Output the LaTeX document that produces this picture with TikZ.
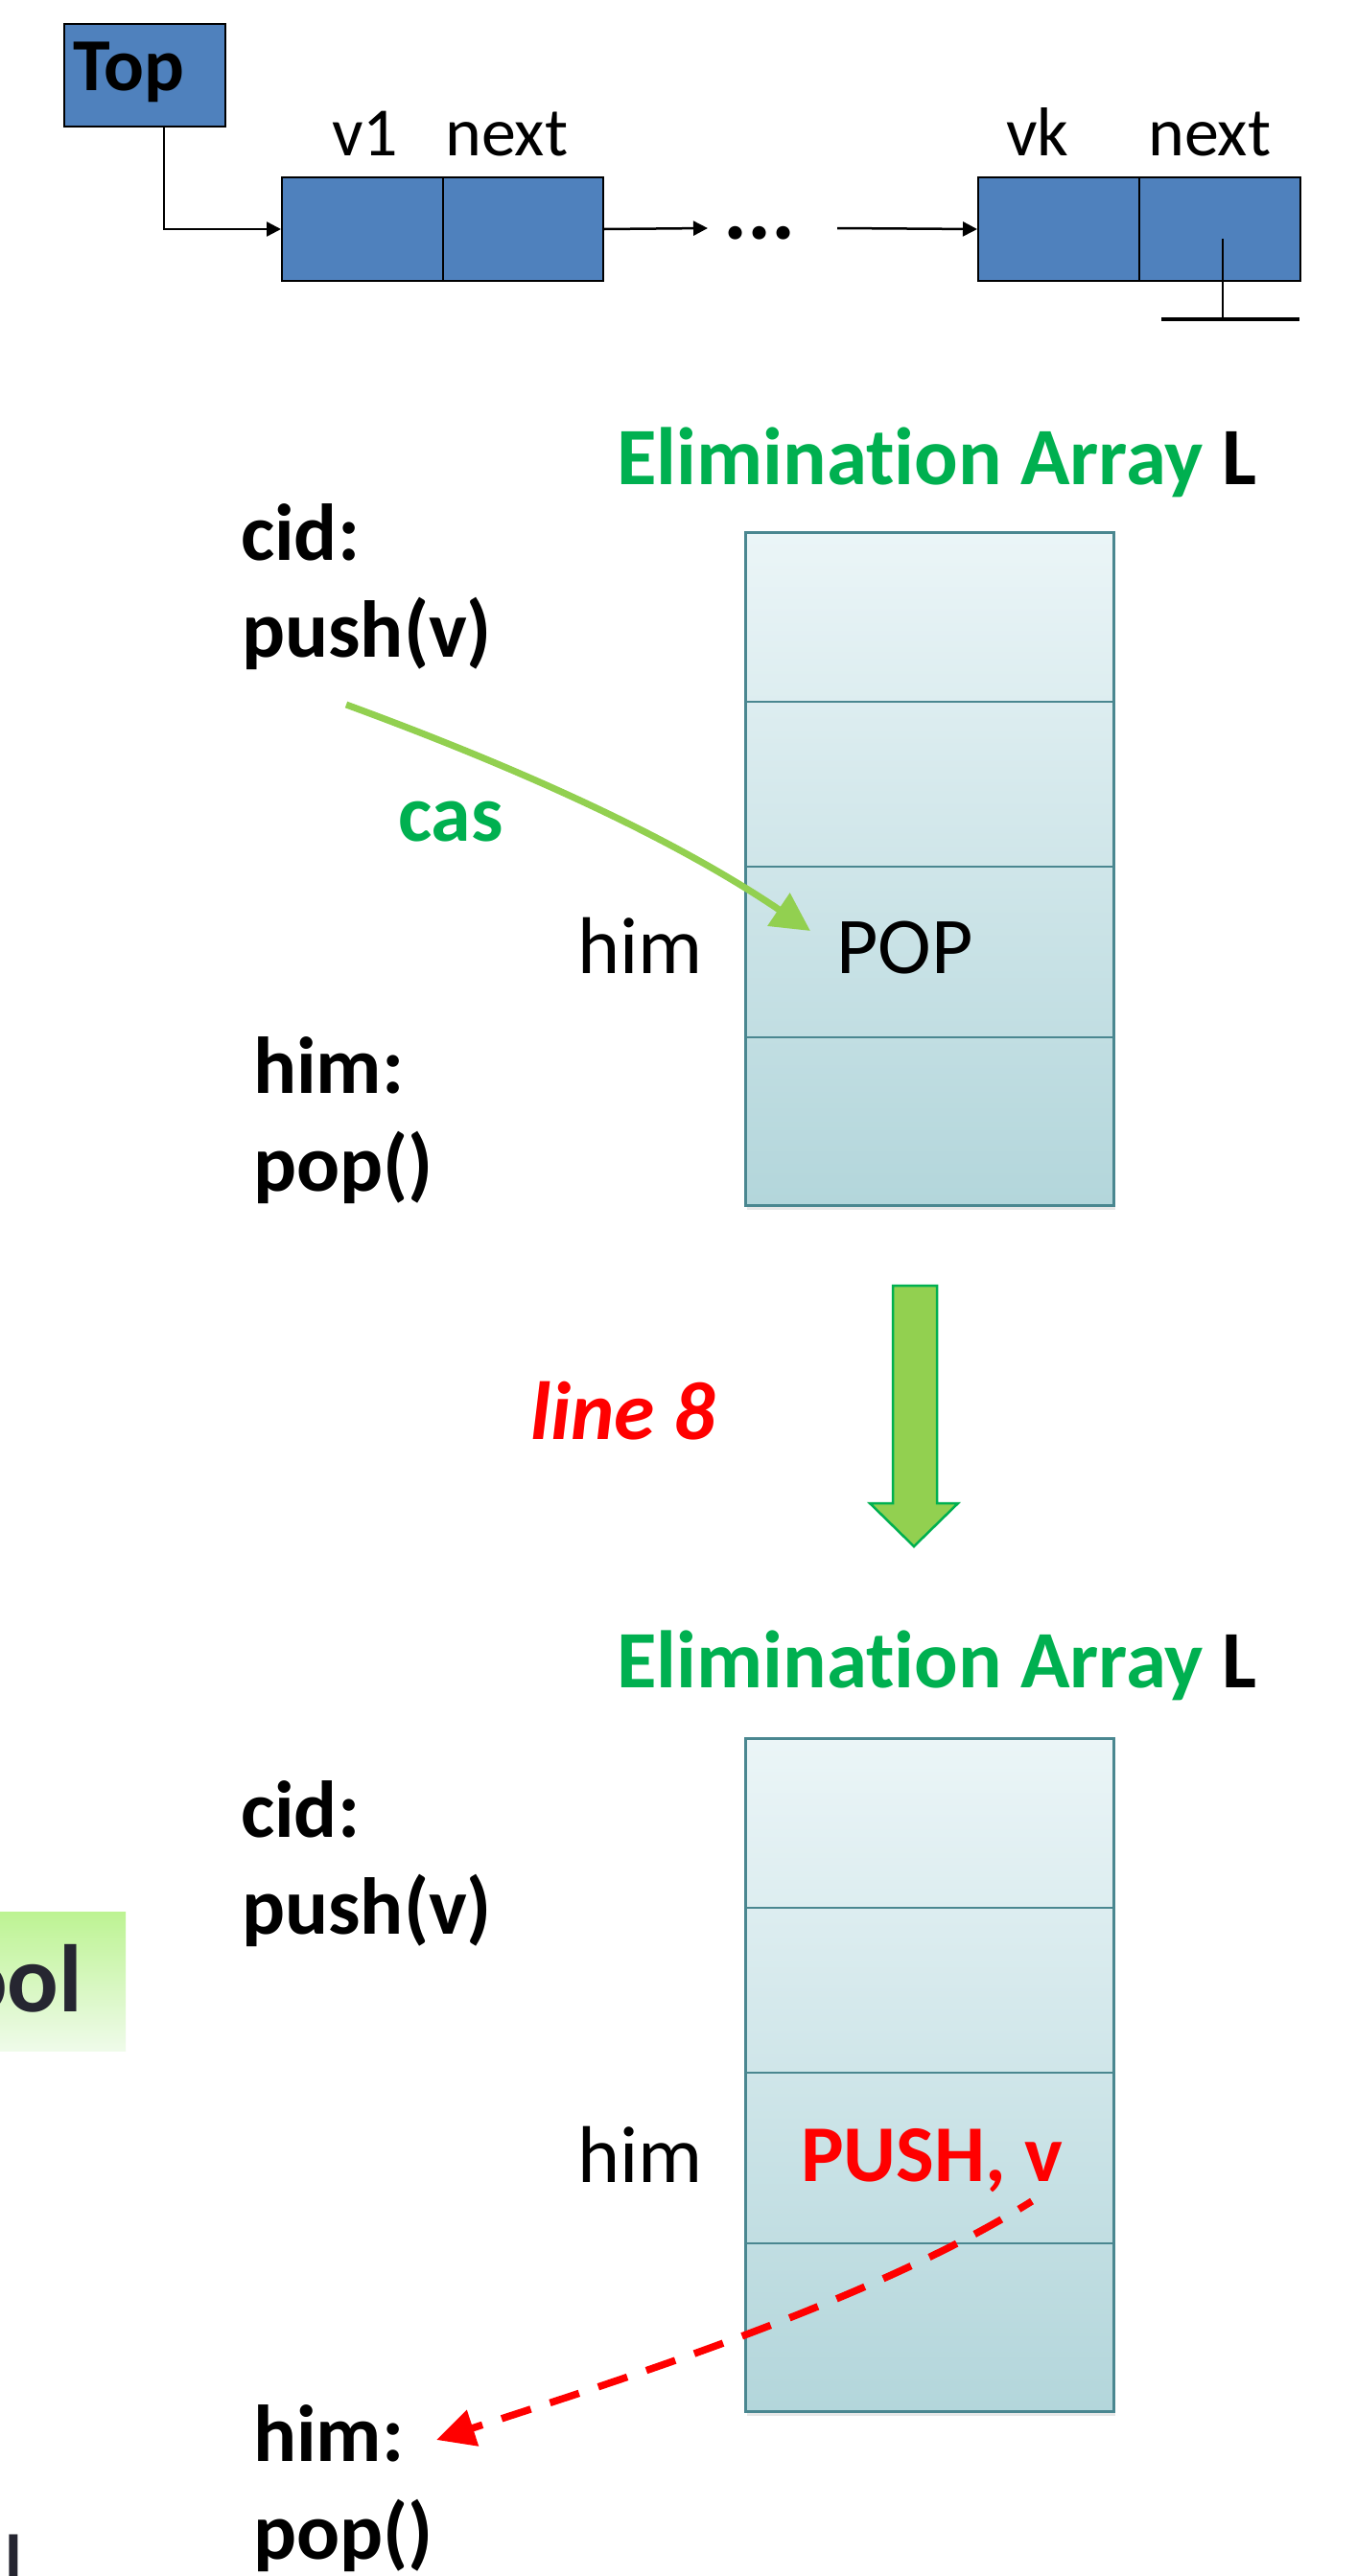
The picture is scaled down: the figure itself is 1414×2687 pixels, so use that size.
\documentclass[tikz,border=0pt]{standalone}
\usepackage{fontspec}
\setmainfont[Ligatures={NoCommon}]{Carlito}
\usetikzlibrary{arrows.meta,shadows}
\definecolor{listblue}{HTML}{4F81BD}
\definecolor{eagreen}{HTML}{00B050}
\definecolor{casline}{HTML}{92D050}
\definecolor{boxtop}{HTML}{EBF5F7}
\definecolor{boxbot}{HTML}{B3D6DB}
\definecolor{boxedge}{HTML}{4A8790}
\definecolor{oolink}{HTML}{262631}
\definecolor{ooltop}{HTML}{BDF393}
\definecolor{oolbot}{HTML}{EFFBEA}
\begin{document}
\begin{tikzpicture}[x=1pt,y=-1pt,
  txt/.style={inner sep=0pt, anchor=base west, font=\fontsize{84}{101}\selectfont},
  txtb/.style={inner sep=0pt, anchor=base west, font=\fontsize{84}{101}\selectfont\bfseries},
  listtxt/.style={inner sep=0pt, anchor=base west, font=\fontsize{72}{86}\selectfont},
  cell/.style={draw=black, line width=2pt, fill=listblue, inner sep=0pt, anchor=north west, minimum height=108pt},
  listarrow/.style={line width=2.5pt, -{Triangle[length=15pt,width=15pt]}},
  arraybox/.style={draw=boxedge, line width=2.5pt, top color=boxtop, bottom color=boxbot, inner sep=0pt, anchor=north west, minimum width=384pt, minimum height=702pt, drop shadow={opacity=0.18, shadow xshift=2pt, shadow yshift=-5pt}},
  divider/.style={draw=boxedge, line width=2pt},
  casarrow/.style={draw=casline, line width=7pt, -{Triangle[length=40pt,width=40pt]}},
  retarrow/.style={draw=red, line width=7.5pt, dash pattern=on 32pt off 21pt, dash phase=16pt, -{Triangle[length=40pt,width=38pt]}},
  bigarrow/.style={fill=casline, draw=eagreen, line width=2.5pt, line join=miter},
  oolfont/.style={inner sep=0pt, anchor=base west, text=oolink, font=\fontsize{100}{120}\selectfont\bfseries}
]
\useasboundingbox (0,0) rectangle (1414,2687);

% ---------- linked list ----------
\node[cell, minimum width=168pt, minimum height=107pt] (top) at (66,24) {};
\node[listtxt, font=\fontsize{78}{94}\selectfont\bfseries] (toplbl) at (76,94) {Top};
\node[cell, minimum width=168pt] (v1v) at (293,184) {};
\node[cell, minimum width=167pt] (v1n) at (461,184) {};
\node[cell, minimum width=168pt] (vkv) at (1019,184) {};
\node[cell, minimum width=168pt] (vkn) at (1187,184) {};
\node[listtxt] (v1lbl) at (346,162) {v1};
\node[listtxt] (n1lbl) at (464,162) {next};
\node[listtxt] (vklbl) at (1049,162) {vk};
\node[listtxt] (nklbl) at (1197,162) {next};
\node[inner sep=0pt, anchor=base west, font=\fontsize{94}{112}\selectfont\bfseries] (dots) at (754,249) {...};
\coordinate (dotsL) at (738,238);
\coordinate (dotsR) at (873,238);
\draw[listarrow] ([xshift=20pt]top.south) |- (v1v.west);
\draw[listarrow] (v1n.east) -- (dotsL);
\draw[listarrow] (dotsR) -- (vkv.west);
\coordinate (nullTop) at (1275,249);
\coordinate (nullBot) at (1275,333);
\coordinate (nullL) at (1211,333);
\coordinate (nullR) at (1355,333);
\draw[line width=2pt] (nullTop) -- (nullBot);
\draw[line width=3.5pt] (nullL) -- (nullR);

% ---------- first elimination array ----------
\node[txtb, font=\fontsize{85}{101}\selectfont\bfseries] (title1) at (643,505) {\textcolor{eagreen}{Elimination Array} L};
\node[arraybox] (arr1) at (776,554) {};
\draw[divider] (776,732) -- (1160,732);
\draw[divider] (776,904) -- (1160,904);
\draw[divider] (776,1082) -- (1160,1082);
\node[txtb] (cid1) at (251,584) {cid:};
\node[txtb] (push1) at (252,685) {push(v)};
\node[txtb, text=eagreen] (cas) at (415,877) {cas};
\node[txt] (him1) at (602,1015) {him};
\node[txt] (pop1) at (872,1015) {POP};
\node[txtb] (himc1) at (264,1140) {him:};
\node[txtb] (popc1) at (264,1242) {pop()};
\coordinate (casS) at (361,735);
\coordinate (casE) at (845,971);
\draw[casarrow] (casS) .. controls (530,797) and (696,870) .. (casE);

% ---------- transition ----------
\draw[bigarrow] (931,1341) -- (977,1341) -- (977,1568) -- (999,1568) -- (953,1613) -- (907,1568) -- (931,1568) -- cycle;
\node[txtb, font=\fontsize{86}{101}\selectfont\bfseries\itshape, text=red] (line8) at (553,1501) {line 8};

% ---------- second elimination array ----------
\node[txtb, font=\fontsize{85}{101}\selectfont\bfseries] (title2) at (643,1760) {\textcolor{eagreen}{Elimination Array} L};
\node[arraybox] (arr2) at (776,1812) {};
\draw[divider] (776,1990) -- (1160,1990);
\draw[divider] (776,2162) -- (1160,2162);
\draw[divider] (776,2340) -- (1160,2340);
\node[txtb] (cid2) at (251,1916) {cid:};
\node[txtb] (push2) at (252,2017) {push(v)};
\node[txt] (him2) at (602,2276) {him};
\node[txtb, text=red] (pushv) at (835,2275) {PUSH, v};
\node[txtb] (himc2) at (264,2567) {him:};
\node[txtb] (popc2) at (264,2669) {pop()};
\coordinate (retS) at (1076,2296);
\coordinate (retE) at (455,2545);
\draw[retarrow] (retS) .. controls (910,2400) and (645,2483) .. (retE);

% ---------- fragments at the left edge ----------
\node[top color=ooltop, bottom color=oolbot, inner sep=0pt, anchor=north west, minimum width=131pt, minimum height=145pt] (oolbox) at (0,1994) {};
\node[oolfont] (ooltxt) at (-46,2098) {ool};
\node[oolfont, font=\fontsize{72}{86}\selectfont\bfseries] (lfrag) at (5,2694) {l};
\end{tikzpicture}
\end{document}
